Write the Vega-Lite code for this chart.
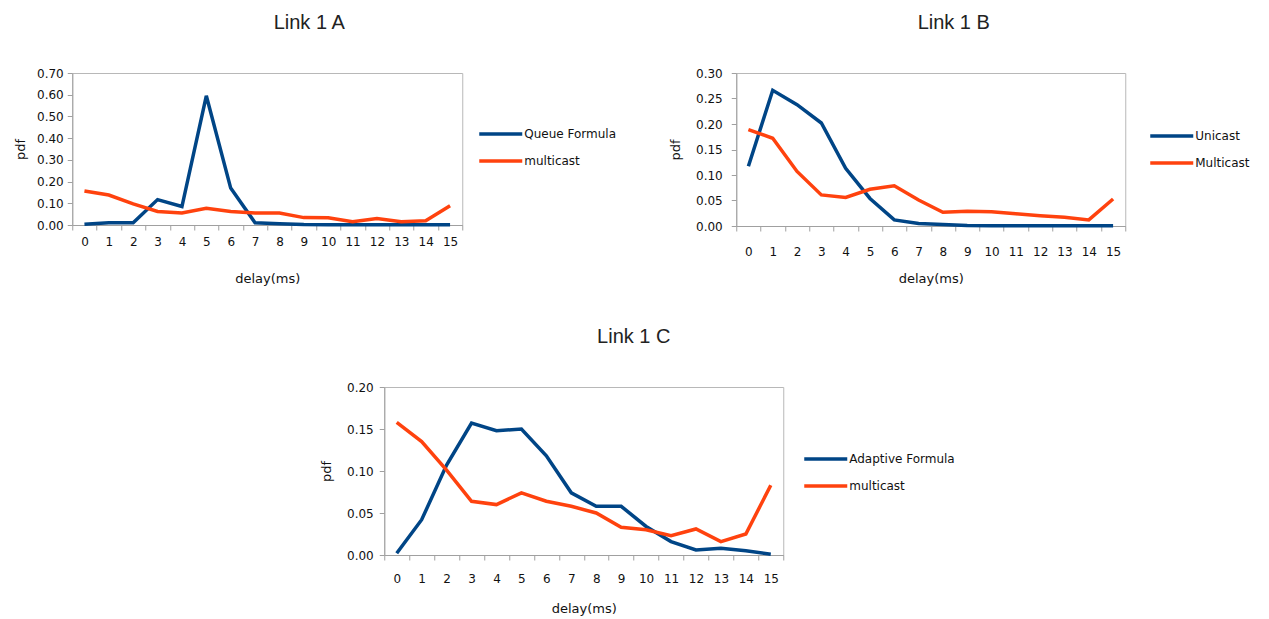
{
  "$schema": "https://vega.github.io/schema/vega-lite/v6.json",
  "background": "white",
  "padding": {"left": 14, "top": 12, "right": 0, "bottom": 5},
  "config": {
    "font": "Liberation Sans",
    "view": {"stroke": "#b8b8b8", "strokeWidth": 1},
    "axis": {
      "labelFont": "DejaVu Sans", "labelFontSize": 12, "labelColor": "#111",
      "titleFont": "DejaVu Sans", "titleFontSize": 13, "titleFontWeight": "normal", "titleColor": "#111",
      "domainColor": "#a0a0a0", "tickColor": "#a0a0a0", "grid": false, "tickSize": 5
    },
    "legend": {
      "labelFont": "DejaVu Sans", "labelFontSize": 12, "labelColor": "#111",
      "symbolType": "stroke", "symbolStrokeWidth": 3.5, "symbolSize": 1849, "rowPadding": 7, "clipHeight": 20, "labelOffset": 0
    },
    "title": {"font": "Liberation Sans", "fontSize": 20, "fontWeight": "normal", "color": "#222", "offset": 34},
    "line": {"strokeWidth": 3.5}
  },
  "datasets": {
    "A": [
      {"delay": 0, "series": "Queue Formula", "pdf": 0.003}, {"delay": 1, "series": "Queue Formula", "pdf": 0.01},
      {"delay": 2, "series": "Queue Formula", "pdf": 0.01}, {"delay": 3, "series": "Queue Formula", "pdf": 0.117},
      {"delay": 4, "series": "Queue Formula", "pdf": 0.085}, {"delay": 5, "series": "Queue Formula", "pdf": 0.595},
      {"delay": 6, "series": "Queue Formula", "pdf": 0.17}, {"delay": 7, "series": "Queue Formula", "pdf": 0.01},
      {"delay": 8, "series": "Queue Formula", "pdf": 0.006}, {"delay": 9, "series": "Queue Formula", "pdf": 0.002},
      {"delay": 10, "series": "Queue Formula", "pdf": 0.001}, {"delay": 11, "series": "Queue Formula", "pdf": 0.001},
      {"delay": 12, "series": "Queue Formula", "pdf": 0.001}, {"delay": 13, "series": "Queue Formula", "pdf": 0.001},
      {"delay": 14, "series": "Queue Formula", "pdf": 0.001}, {"delay": 15, "series": "Queue Formula", "pdf": 0.001},
      {"delay": 0, "series": "multicast", "pdf": 0.157}, {"delay": 1, "series": "multicast", "pdf": 0.138},
      {"delay": 2, "series": "multicast", "pdf": 0.097}, {"delay": 3, "series": "multicast", "pdf": 0.062},
      {"delay": 4, "series": "multicast", "pdf": 0.055}, {"delay": 5, "series": "multicast", "pdf": 0.077},
      {"delay": 6, "series": "multicast", "pdf": 0.062}, {"delay": 7, "series": "multicast", "pdf": 0.055},
      {"delay": 8, "series": "multicast", "pdf": 0.055}, {"delay": 9, "series": "multicast", "pdf": 0.034},
      {"delay": 10, "series": "multicast", "pdf": 0.033}, {"delay": 11, "series": "multicast", "pdf": 0.015},
      {"delay": 12, "series": "multicast", "pdf": 0.03}, {"delay": 13, "series": "multicast", "pdf": 0.015},
      {"delay": 14, "series": "multicast", "pdf": 0.02}, {"delay": 15, "series": "multicast", "pdf": 0.089}
    ],
    "B": [
      {"delay": 0, "series": "Unicast", "pdf": 0.117}, {"delay": 1, "series": "Unicast", "pdf": 0.266},
      {"delay": 2, "series": "Unicast", "pdf": 0.238}, {"delay": 3, "series": "Unicast", "pdf": 0.202},
      {"delay": 4, "series": "Unicast", "pdf": 0.113}, {"delay": 5, "series": "Unicast", "pdf": 0.054},
      {"delay": 6, "series": "Unicast", "pdf": 0.012}, {"delay": 7, "series": "Unicast", "pdf": 0.005},
      {"delay": 8, "series": "Unicast", "pdf": 0.003}, {"delay": 9, "series": "Unicast", "pdf": 0.001},
      {"delay": 10, "series": "Unicast", "pdf": 0.0005}, {"delay": 11, "series": "Unicast", "pdf": 0.0005},
      {"delay": 12, "series": "Unicast", "pdf": 0.0005}, {"delay": 13, "series": "Unicast", "pdf": 0.0005},
      {"delay": 14, "series": "Unicast", "pdf": 0.0005}, {"delay": 15, "series": "Unicast", "pdf": 0.0005},
      {"delay": 0, "series": "Multicast", "pdf": 0.189}, {"delay": 1, "series": "Multicast", "pdf": 0.172},
      {"delay": 2, "series": "Multicast", "pdf": 0.107}, {"delay": 3, "series": "Multicast", "pdf": 0.061},
      {"delay": 4, "series": "Multicast", "pdf": 0.056}, {"delay": 5, "series": "Multicast", "pdf": 0.072},
      {"delay": 6, "series": "Multicast", "pdf": 0.079}, {"delay": 7, "series": "Multicast", "pdf": 0.051},
      {"delay": 8, "series": "Multicast", "pdf": 0.027}, {"delay": 9, "series": "Multicast", "pdf": 0.029},
      {"delay": 10, "series": "Multicast", "pdf": 0.028}, {"delay": 11, "series": "Multicast", "pdf": 0.024},
      {"delay": 12, "series": "Multicast", "pdf": 0.02}, {"delay": 13, "series": "Multicast", "pdf": 0.017},
      {"delay": 14, "series": "Multicast", "pdf": 0.012}, {"delay": 15, "series": "Multicast", "pdf": 0.053}
    ],
    "C": [
      {"delay": 0, "series": "Adaptive Formula", "pdf": 0.002}, {"delay": 1, "series": "Adaptive Formula", "pdf": 0.042},
      {"delay": 2, "series": "Adaptive Formula", "pdf": 0.107}, {"delay": 3, "series": "Adaptive Formula", "pdf": 0.157},
      {"delay": 4, "series": "Adaptive Formula", "pdf": 0.148}, {"delay": 5, "series": "Adaptive Formula", "pdf": 0.15},
      {"delay": 6, "series": "Adaptive Formula", "pdf": 0.118}, {"delay": 7, "series": "Adaptive Formula", "pdf": 0.074},
      {"delay": 8, "series": "Adaptive Formula", "pdf": 0.058}, {"delay": 9, "series": "Adaptive Formula", "pdf": 0.058},
      {"delay": 10, "series": "Adaptive Formula", "pdf": 0.034}, {"delay": 11, "series": "Adaptive Formula", "pdf": 0.016},
      {"delay": 12, "series": "Adaptive Formula", "pdf": 0.006}, {"delay": 13, "series": "Adaptive Formula", "pdf": 0.008},
      {"delay": 14, "series": "Adaptive Formula", "pdf": 0.005}, {"delay": 15, "series": "Adaptive Formula", "pdf": 0.001},
      {"delay": 0, "series": "multicast", "pdf": 0.158}, {"delay": 1, "series": "multicast", "pdf": 0.135},
      {"delay": 2, "series": "multicast", "pdf": 0.101}, {"delay": 3, "series": "multicast", "pdf": 0.064},
      {"delay": 4, "series": "multicast", "pdf": 0.06}, {"delay": 5, "series": "multicast", "pdf": 0.074},
      {"delay": 6, "series": "multicast", "pdf": 0.064}, {"delay": 7, "series": "multicast", "pdf": 0.058},
      {"delay": 8, "series": "multicast", "pdf": 0.05}, {"delay": 9, "series": "multicast", "pdf": 0.033},
      {"delay": 10, "series": "multicast", "pdf": 0.03}, {"delay": 11, "series": "multicast", "pdf": 0.023},
      {"delay": 12, "series": "multicast", "pdf": 0.031}, {"delay": 13, "series": "multicast", "pdf": 0.016},
      {"delay": 14, "series": "multicast", "pdf": 0.025}, {"delay": 15, "series": "multicast", "pdf": 0.083}
    ]
  },
  "vconcat": [
    {
      "hconcat": [
        {
          "title": {"text": "Link 1 A", "dx": 42},
          "data": {"name": "A"},
          "width": 390, "height": 152,
          "mark": "line",
          "encoding": {
            "x": {"field": "delay", "type": "ordinal", "scale": {"type": "band", "paddingInner": 0, "paddingOuter": 0},
                  "axis": {"title": "delay(ms)", "labelAngle": 0, "tickBand": "extent", "labelPadding": 6, "titlePadding": 25}},
            "y": {"field": "pdf", "type": "quantitative", "scale": {"domain": [0, 0.7], "nice": false},
                  "axis": {"title": "pdf", "format": ".2f", "values": [0, 0.1, 0.2, 0.3, 0.4, 0.5, 0.6, 0.7], "labelPadding": 4, "titlePadding": 9}},
            "color": {"field": "series", "type": "nominal",
                      "scale": {"domain": ["Queue Formula", "multicast"], "range": ["#004586", "#ff420e"]},
                      "legend": {"title": null, "orient": "none", "legendX": 405, "legendY": 51}}
          }
        },
        {
          "title": {"text": "Link 1 B", "dx": 23},
          "data": {"name": "B"},
          "width": 389, "height": 153,
          "mark": "line",
          "encoding": {
            "x": {"field": "delay", "type": "ordinal", "scale": {"type": "band", "paddingInner": 0, "paddingOuter": 0},
                  "axis": {"title": "delay(ms)", "labelAngle": 0, "tickBand": "extent", "labelPadding": 15, "titlePadding": 15}},
            "y": {"field": "pdf", "type": "quantitative", "scale": {"domain": [0, 0.3], "nice": false},
                  "axis": {"title": "pdf", "format": ".2f", "values": [0, 0.05, 0.1, 0.15, 0.2, 0.25, 0.3], "labelPadding": 9, "titlePadding": 13}},
            "color": {"field": "series", "type": "nominal",
                      "scale": {"domain": ["Unicast", "Multicast"], "range": ["#004586", "#ff420e"]},
                      "legend": {"title": null, "orient": "none", "padding": 17, "legendX": 395, "legendY": 36}}
          }
        }
      ],
      "spacing": 51,
      "resolve": {"scale": {"color": "independent"}}
    },
    {
      "title": {"text": "Link 1 C", "dx": 50},
      "data": {"name": "C"},
      "width": 399, "height": 168,
      "mark": "line",
      "encoding": {
        "x": {"field": "delay", "type": "ordinal", "scale": {"type": "band", "paddingInner": 0, "paddingOuter": 0},
              "axis": {"title": "delay(ms)", "labelAngle": 0, "tickBand": "extent", "labelPadding": 13, "titlePadding": 18}},
        "y": {"field": "pdf", "type": "quantitative", "scale": {"domain": [0, 0.2], "nice": false},
              "axis": {"title": "pdf", "format": ".2f", "values": [0, 0.05, 0.1, 0.15, 0.2], "labelPadding": 6, "titleX": -51}},
        "color": {"field": "series", "type": "nominal",
                  "scale": {"domain": ["Adaptive Formula", "multicast"], "range": ["#004586", "#ff420e"]},
                  "legend": {"title": null, "orient": "none", "legendX": 418, "legendY": 62}}
      }
    }
  ],
  "center": true,
  "spacing": 40,
  "resolve": {"scale": {"color": "independent"}}
}
